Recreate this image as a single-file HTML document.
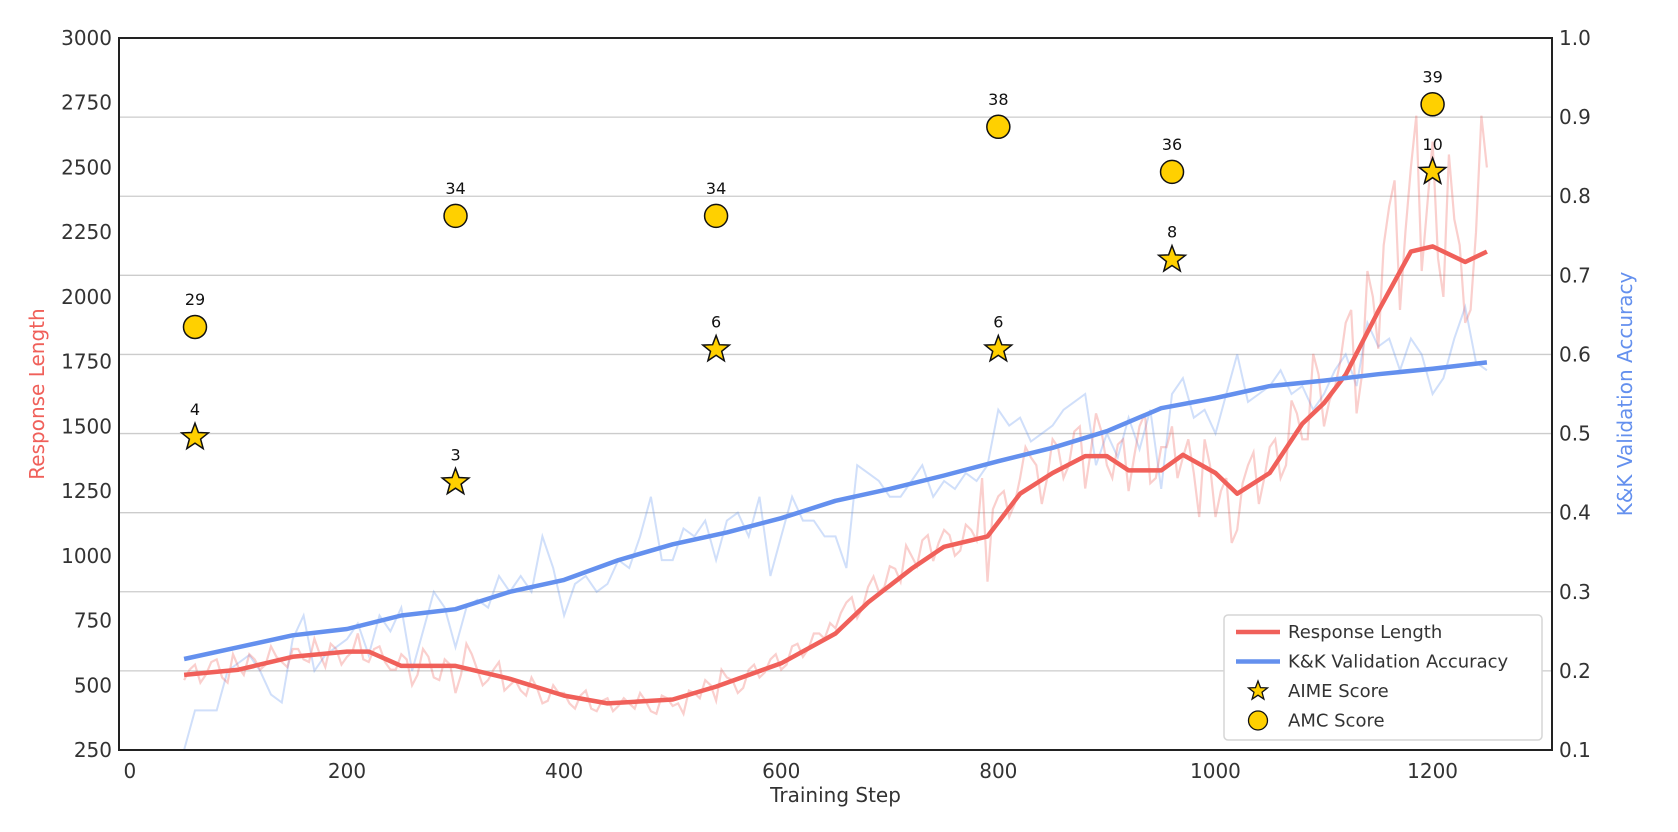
<!DOCTYPE html>
<html><head><meta charset="utf-8"><style>
html,body{margin:0;padding:0;background:#fff;}
svg{display:block;font-family:"DejaVu Sans","Liberation Sans",sans-serif;}
</style></head><body>
<svg id="chart" width="1678" height="832" viewBox="0 0 1678 832" xmlns="http://www.w3.org/2000/svg"></svg>
<script>
const steps=[];for(let s=50;s<=1250;s+=10)steps.push(s);
const steps2=[];for(let s=55;s<=1245;s+=10)steps2.push(s);
const respRaw=[520,580,540,600,510,570,620,560,650,590,640,
600,680,570,640,610,700,590,650,560,620,
500,640,530,600,470,660,560,520,590,500,
480,530,430,500,470,410,480,400,450,420,
430,470,400,460,420,390,470,520,440,530,
470,560,530,600,560,650,610,700,680,720,
820,760,880,860,960,900,1000,1060,980,1100,
1000,1120,1060,900,1230,1150,1300,1380,1200,1450,
1300,1480,1260,1550,1350,1430,1250,1500,1280,1420,
1500,1380,1320,1450,1150,1300,1100,1350,1200,1420,
1300,1600,1450,1780,1500,1650,1900,1550,2100,1800,
2350,1950,2500,2100,2600,2000,2300,1900,2250,2500];
const respRaw2=[560,510,590,530,620,540,600,580,610,570,
640,590,620,660,580,630,600,640,590,560,
600,540,610,520,580,540,620,500,560,480,
520,460,490,440,470,430,460,410,440,400,
450,410,440,390,450,430,480,450,500,560,
520,490,580,550,620,580,660,640,700,740,
780,840,800,920,880,950,1040,960,1080,1050,
1080,1020,1100,1300,1180,1250,1200,1420,1350,1300,
1420,1350,1500,1400,1480,1300,1450,1380,1550,1300,
1420,1300,1450,1150,1350,1250,1050,1280,1400,1300,
1450,1350,1550,1450,1700,1600,1750,1950,1700,2000,
2200,2450,2250,2700,2350,2150,2550,2200,1950,2700];
const accRaw=[0.10,0.15,0.15,0.15,0.20,0.21,0.22,0.20,0.17,0.16,0.24,
0.27,0.20,0.22,0.23,0.24,0.26,0.22,0.27,0.25,0.28,
0.20,0.25,0.30,0.28,0.23,0.28,0.29,0.28,0.32,0.30,
0.32,0.30,0.37,0.33,0.27,0.31,0.32,0.30,0.31,0.34,
0.33,0.37,0.42,0.34,0.34,0.38,0.37,0.39,0.34,0.39,
0.40,0.37,0.42,0.32,0.37,0.42,0.39,0.39,0.37,0.37,
0.33,0.46,0.45,0.44,0.42,0.42,0.44,0.46,0.42,0.44,
0.43,0.45,0.44,0.46,0.53,0.51,0.52,0.49,0.50,0.51,
0.53,0.54,0.55,0.46,0.50,0.47,0.52,0.48,0.53,0.43,
0.55,0.57,0.52,0.53,0.50,0.55,0.60,0.54,0.55,0.56,
0.58,0.55,0.56,0.53,0.55,0.58,0.60,0.56,0.64,0.61,
0.62,0.58,0.62,0.60,0.55,0.57,0.62,0.66,0.59,0.58];
const smoothRespSteps=[50,100,150,200,220,250,300,350,400,440,500,540,600,650,680,720,750,790,820,850,880,900,920,950,970,1000,1020,1050,1080,1100,1120,1150,1180,1200,1230,1250];
const smoothResp=[540,560,610,630,630,575,575,525,460,430,445,495,585,700,820,950,1035,1075,1240,1320,1385,1385,1330,1330,1390,1320,1240,1320,1510,1590,1700,1945,2175,2195,2135,2175];
const smoothAccSteps=[50,100,150,200,250,300,350,400,450,500,550,600,650,700,750,800,850,900,950,1000,1050,1100,1150,1200,1250];
const smoothAcc=[0.215,0.23,0.245,0.253,0.27,0.278,0.30,0.315,0.34,0.36,0.375,0.393,0.415,0.43,0.447,0.465,0.482,0.503,0.532,0.545,0.56,0.567,0.575,0.582,0.59];
const amcSteps=[60,300,540,800,960,1200];
const amcY=[1884,2313,2313,2657,2483,2744];
const amcLabels=["29","34","34","38","36","39"];
const aimeSteps=[60,300,540,800,960,1200];
const aimeY=[1458,1284,1797,1797,2144,2483];
const aimeLabels=["4","3","6","6","8","10"];
const xTicks=[0,200,400,600,800,1000,1200];
const yLTicks=[250,500,750,1000,1250,1500,1750,2000,2250,2500,2750,3000];
const yRTicks=[0.1,0.2,0.3,0.4,0.5,0.6,0.7,0.8,0.9,1.0];

const L=119,R=1552,T=38,B=750;
const X=v=>L+(v+10)/1320*(R-L);
const YL=v=>B-(v-250)/2750*(B-T);
const YR=v=>B-(v-0.1)/0.9*(B-T);
const NS="http://www.w3.org/2000/svg";
const svg=document.getElementById('chart');
function el(tag,attrs,parent){const e=document.createElementNS(NS,tag);for(const k in attrs)e.setAttribute(k,attrs[k]);(parent||svg).appendChild(e);return e;}
function txt(x,y,s,attrs){const e=el('text',Object.assign({x:x,y:y},attrs||{}));e.textContent=s;return e;}

yRTicks.forEach(t=>{if(t>0.1&&t<1.0){const g=el('line',{x1:L,x2:R,y1:YR(t),y2:YR(t),stroke:'#cccccc','stroke-width':1.3});

}});

function path(xs,ys,fx,fy,attrs,name){let d='';xs.forEach((s,i)=>{d+=(i?'L':'M')+fx(s).toFixed(1)+','+fy(ys[i]).toFixed(1);});const p=el('path',Object.assign({d:d,fill:'none'},attrs));

return p;}
// merge raw response series
const mSteps=[],mResp=[];
steps.forEach((s,i)=>{mSteps.push(s);mResp.push(respRaw[i]);if(i<steps2.length){mSteps.push(steps2[i]);mResp.push(respRaw2[i]);}});
path(steps,accRaw,X,YR,{stroke:'#6495ed','stroke-opacity':0.3,'stroke-width':2},'accuracy-raw-line');
path(mSteps,mResp,X,YL,{stroke:'#f0605a','stroke-opacity':0.3,'stroke-width':2.2},'response-length-raw-line');
path(smoothRespSteps,smoothResp,X,YL,{stroke:'#f0605a','stroke-width':4.5,'stroke-linejoin':'round'},'response-length-smooth-line');
path(smoothAccSteps,smoothAcc,X,YR,{stroke:'#6490ee','stroke-width':4.5,'stroke-linejoin':'round'},'accuracy-smooth-line');

function starPath(cx,cy,r){let d='';for(let i=0;i<10;i++){const a=-Math.PI/2+i*Math.PI/5;const rr=i%2?r*0.42:r;d+=(i?'L':'M')+(cx+rr*Math.cos(a)).toFixed(1)+','+(cy+rr*Math.sin(a)).toFixed(1);}return d+'Z';}
amcSteps.forEach((s,i)=>{const c=el('circle',{cx:X(s),cy:YL(amcY[i]),r:11.5,fill:'#ffd000',stroke:'#111','stroke-width':1.5});


const t=txt(X(s),YL(amcY[i])-22,amcLabels[i],{'text-anchor':'middle','font-size':16,fill:'#111'});

});
aimeSteps.forEach((s,i)=>{const p=el('path',{d:starPath(X(s),YL(aimeY[i]),14),fill:'#ffd000',stroke:'#111','stroke-width':1.5});


const t=txt(X(s),YL(aimeY[i])-22,aimeLabels[i],{'text-anchor':'middle','font-size':16,fill:'#111'});

});

const fr=el('rect',{x:L,y:T,width:R-L,height:B-T,fill:'none',stroke:'#222','stroke-width':2});



xTicks.forEach(t=>{const e=txt(X(t),B+28,String(t),{'text-anchor':'middle','font-size':20,fill:'#333'});

});
yLTicks.forEach(t=>{const e=txt(L-7,YL(t)+7,String(t),{'text-anchor':'end','font-size':20,fill:'#333'});

});
yRTicks.forEach(t=>{const e=txt(R+7,YR(t)+7,t.toFixed(1),{'text-anchor':'start','font-size':20,fill:'#333'});

});
const xl=txt((L+R)/2,B+52,'Training Step',{'text-anchor':'middle','font-size':20,fill:'#333'});


const yl=txt(0,0,'Response Length',{'text-anchor':'middle','font-size':20,fill:'#f0605a',transform:'translate(44,'+((T+B)/2)+') rotate(-90)'});


const yr=txt(0,0,'K&K Validation Accuracy',{'text-anchor':'middle','font-size':20,fill:'#6490ee',transform:'translate(1632,'+((T+B)/2)+') rotate(-90)'});



const lg=el('g',{});


el('rect',{x:1224,y:615,width:318,height:125,rx:4,fill:'#fff',stroke:'#d6d6d6','stroke-width':1.5},lg);
const items=[['Response Length','line','#f0605a'],['K&K Validation Accuracy','line','#6490ee'],['AIME Score','star'],['AMC Score','circle']];
items.forEach((it,i)=>{const y=632+i*29.5;const g=el('g',{},lg);


if(it[1]=='line')el('line',{x1:1236,x2:1280,y1:y,y2:y,stroke:it[2],'stroke-width':4.5},g);
else if(it[1]=='star')el('path',{d:starPath(1258,y,10),fill:'#ffd000',stroke:'#111','stroke-width':1.3},g);
else el('circle',{cx:1258,cy:y,r:9.5,fill:'#ffd000',stroke:'#111','stroke-width':1.3},g);
const t=txt(1288,y+6,it[0],{'font-size':18,fill:'#333'});g.appendChild(t);});
</script>
</body></html>
